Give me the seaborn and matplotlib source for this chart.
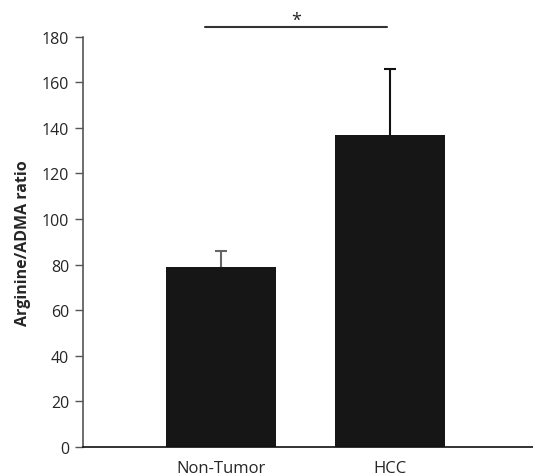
import matplotlib
matplotlib.use("Agg")
import matplotlib.pyplot as plt
import seaborn as sns
import pandas as pd

# Data
groups = ["Non-Tumor", "HCC"]
ratio_mean = [79, 137]
ratio_sd = [7, 29]
err_colors = ["#666666", "#111111"]

sns.set_style("white")
plt.rcParams['font.family'] = ['Open Sans', 'DejaVu Sans']

df = pd.DataFrame({"group": groups, "ratio": ratio_mean})

fig = plt.figure(figsize=(5.33, 4.77), dpi=100)
ax = fig.add_axes([0.156, 0.061, 0.844, 0.86])

sns.barplot(data=df, x="group", y="ratio", color="#161616", width=0.647,
            saturation=1, linewidth=0, ax=ax)

# upper error bars only (stem + top cap)
for i, (m, s) in enumerate(zip(ratio_mean, ratio_sd)):
    ax.vlines(i, m, m + s, color=err_colors[i], lw=1.5, zorder=1)
    ax.plot(i, m + s, marker="_", markersize=9, mew=1.5,
            color=err_colors[i], zorder=1)

ax.set_xlim(-0.81, 1.84)
ax.set_ylim(0, 180)
ax.set_yticks(range(0, 181, 20))
ax.set_xlabel("")
ax.set_ylabel("Arginine/ADMA ratio", fontsize=11.5, fontweight="bold", labelpad=8)

ax.tick_params(axis="y", left=True, length=6, width=1, color="#555555",
               labelsize=11.5, pad=4)
ax.tick_params(axis="x", bottom=False, labelsize=12, pad=6)

for side in ["top", "right"]:
    ax.spines[side].set_visible(False)
ax.spines["left"].set_color("#555555")
ax.spines["left"].set_linewidth(1.2)
ax.spines["bottom"].set_color("#111111")
ax.spines["bottom"].set_linewidth(1.2)

# significance bracket
ax.plot([-0.09, 0.98], [184.4, 184.4], color="#333333", lw=1.5, clip_on=False)
ax.text(0.445, 187.5, "*", ha="center", va="center", fontsize=13, color="#222222")

fig.savefig("out.png", dpi=100)
